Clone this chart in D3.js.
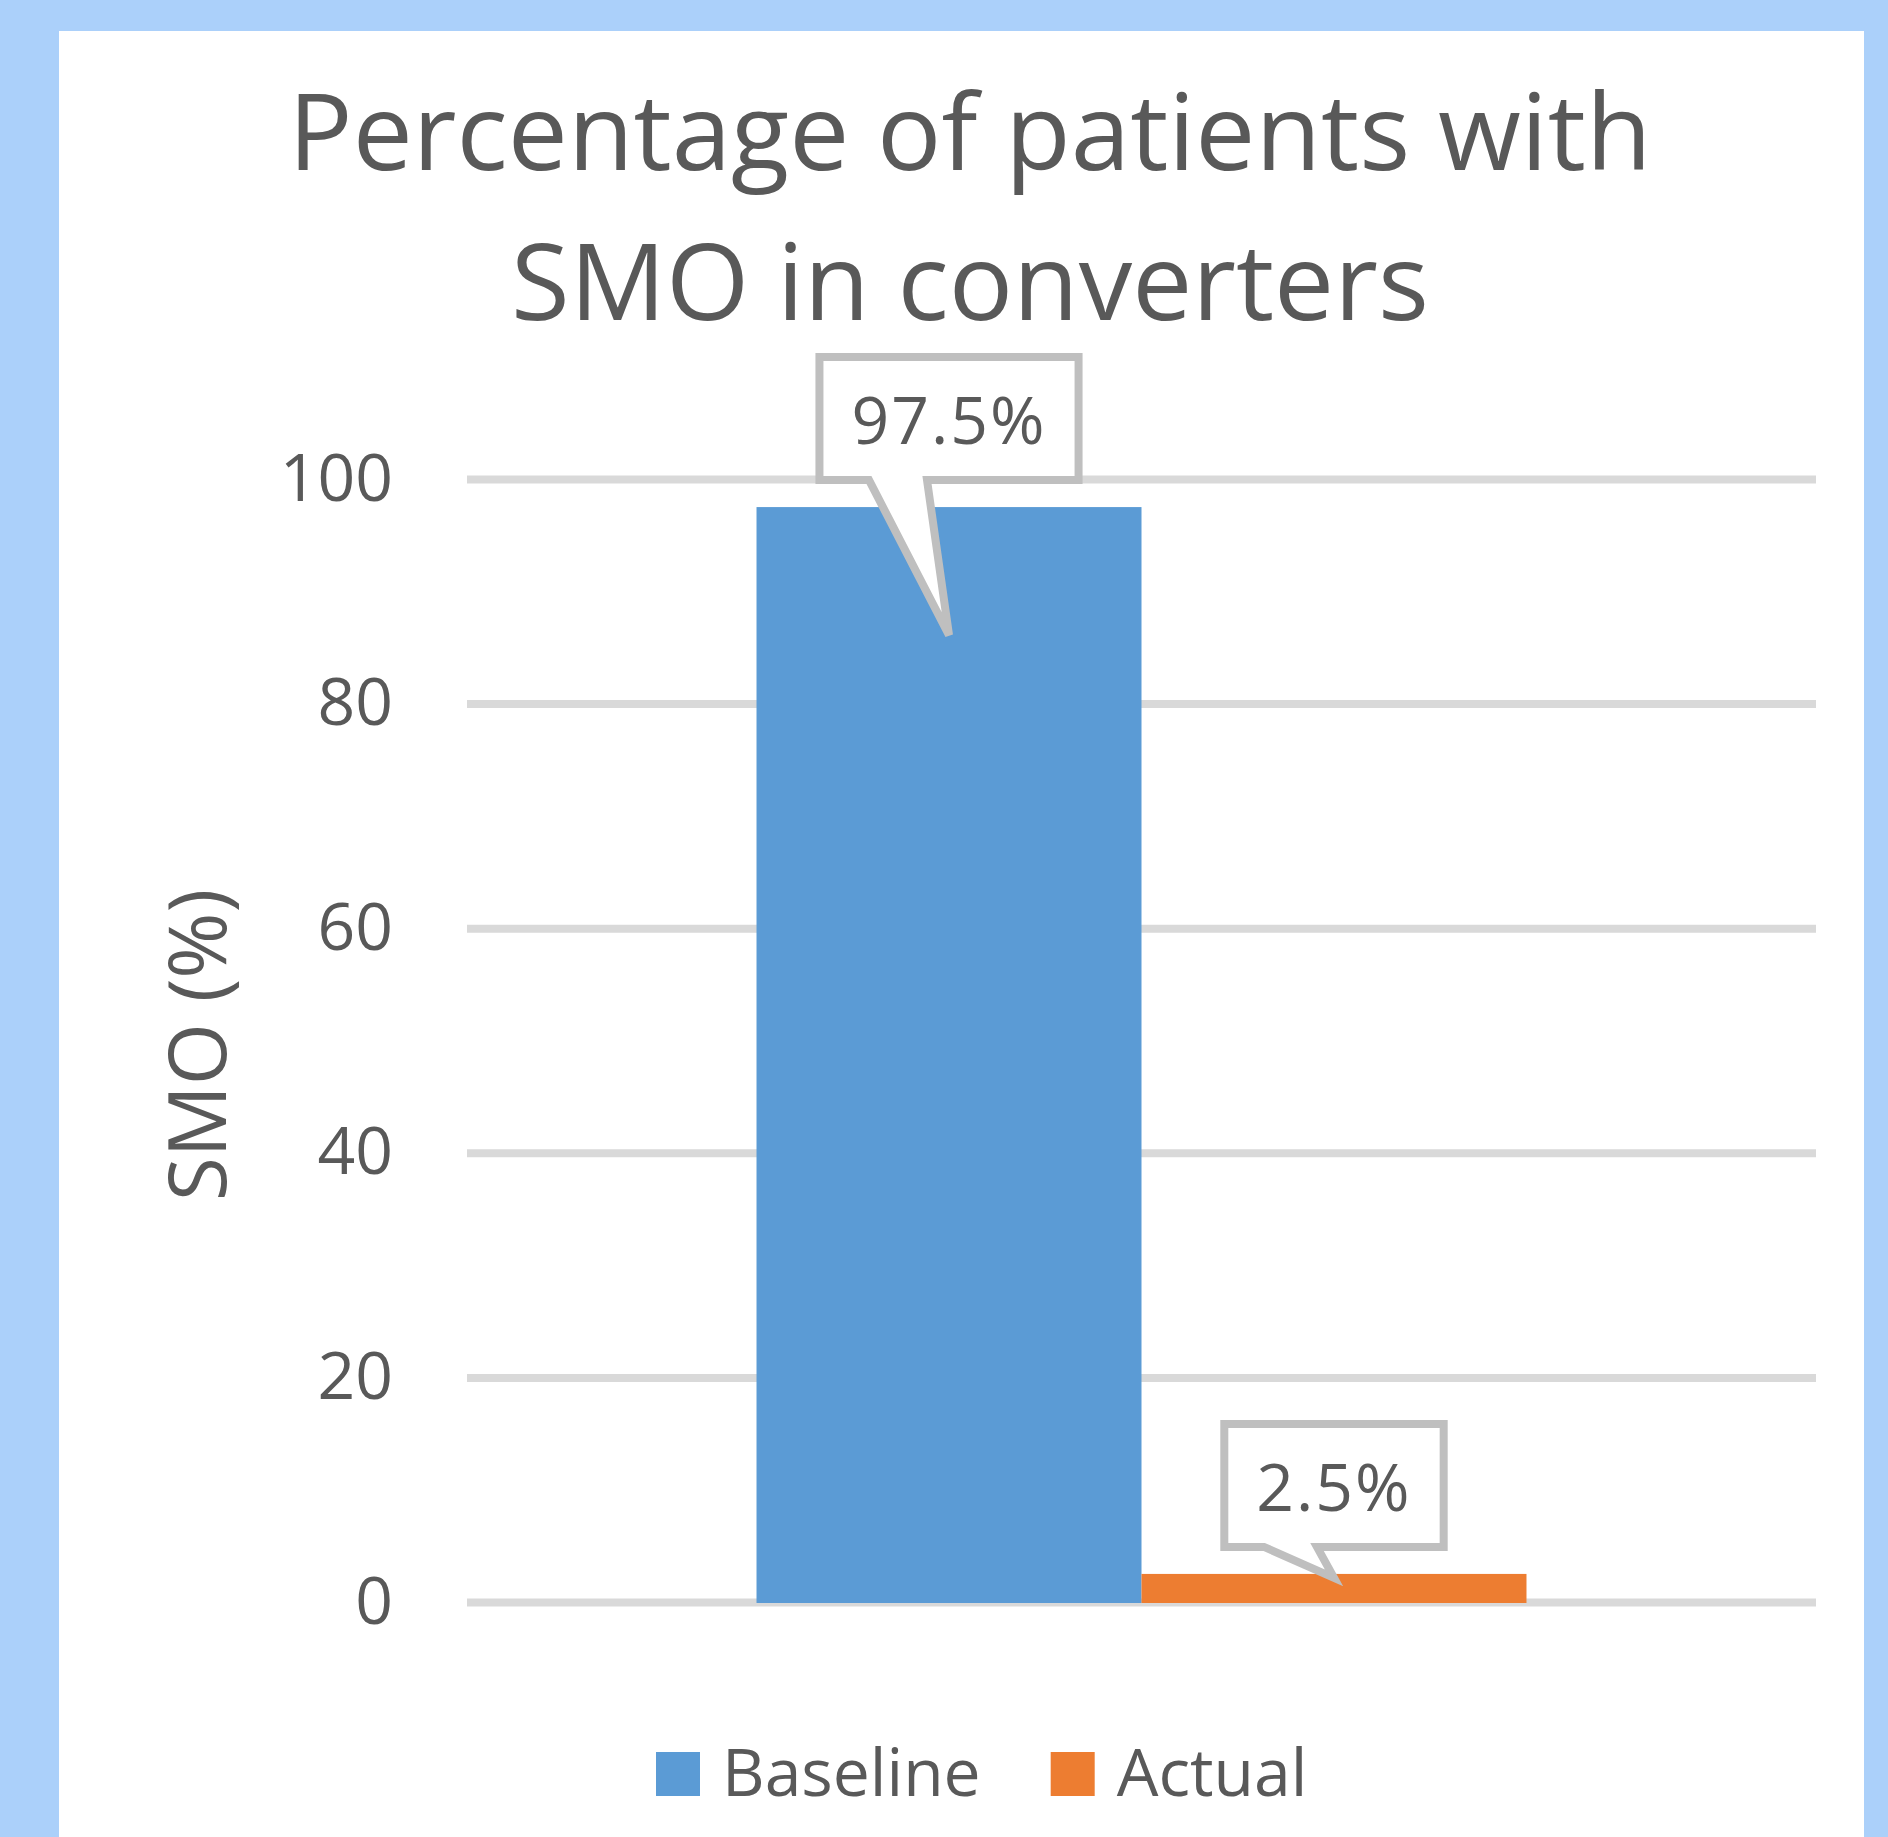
<!DOCTYPE html>
<html>
<head>
<meta charset="utf-8">
<script src="https://cdn.jsdelivr.net/npm/d3@7"></script>
<style>
  html, body { margin: 0; padding: 0; background: #abd0fa; }
  svg { display: block; }
  text { font-family: "Open Sans", "Noto Sans", sans-serif; fill: #595959; }
</style>
</head>
<body>
<svg id="chart"></svg>
<script>
// data
var categories = ["converters"];
var seriesNames = ["Baseline", "Actual"];
var seriesValues = [97.5, 2.5];
var valueLabels = ["97.5%", "2.5%"];
var yTicks = [0, 20, 40, 60, 80, 100];
var titleLines = ["Percentage of patients with", "SMO in converters"];
var yTitle = "SMO (%)";

var colors = ["#5b9bd5", "#ed7d31"];
// callout pointer tweaks (how deep the tip goes, where the pointer leaves the box)
var calloutStyle = [
	{tip: 128, base: [-80, -22]},
	{tip: 4, base: [-70, -17]}
];

var W = 1888, H = 1837;
var margin = { top: 479, right: 72, left: 467 },
		width = W - margin.left - margin.right;

var svg = d3.select('#chart').attr('width', W).attr('height', H);

// white panel
svg.append('rect').attr('x', 59).attr('y', 31).attr('width', 1864 - 59).attr('height', H - 31).attr('fill', '#fff');

// title
svg.append('text')
	.attr('x', 970).attr('text-anchor', 'middle')
	.style('font-size', '107px')
	.selectAll('tspan').data(titleLines).enter().append('tspan')
	.attr('x', 970)
	.attr('y', function(d, i){ return 170 + i * 150; })
	.text(function(d){ return d; });

var g = svg.append('g').attr('transform', 'translate(' + margin.left + ',' + margin.top + ')');

// scales
var yScale = d3.scaleLinear().domain([0, 100]).range([1602 - margin.top, 0]);
var x0 = d3.scaleBand().domain(categories).range([0, width]).paddingOuter(0.376).paddingInner(0);
var x1 = d3.scaleBand().domain(seriesNames).range([0, x0.bandwidth()]).padding(0);

// y axis with gridlines
var yAxis = d3.axisLeft(yScale).tickValues(yTicks).tickSize(-width).tickPadding(74);
var ya = g.append('g').call(yAxis);
ya.select('.domain').remove();
ya.selectAll('.tick line').attr('stroke', '#d9d9d9').attr('stroke-width', 8);
ya.selectAll('.tick text')
	.style('font-size', '66px')
	.style('font-family', '"Open Sans", "Noto Sans", sans-serif')
	.attr('fill', '#595959');

// y title
svg.append('text')
	.attr('transform', 'translate(226,1045) rotate(-90)')
	.attr('text-anchor', 'middle')
	.style('font-size', '80px')
	.text(yTitle);

// bars
var bars = seriesNames.map(function(s, i){
	return {name: s, value: seriesValues[i], label: valueLabels[i], color: colors[i], style: calloutStyle[i]};
});
var cat = g.append('g').attr('transform', 'translate(' + x0(categories[0]) + ',0)');
cat.selectAll('rect').data(bars).enter().append('rect')
	.attr('x', function(d){ return x1(d.name); })
	.attr('y', function(d){ return yScale(d.value); })
	.attr('width', x1.bandwidth())
	.attr('height', function(d){ return yScale(0) - yScale(d.value) + 1; })
	.attr('fill', function(d){ return d.color; });

// data callouts
var callouts = cat.selectAll('g.callout').data(bars).enter().append('g').attr('class', 'callout');
callouts.each(function(d){
	var grp = d3.select(this);
	var cx = x1(d.name) + x1.bandwidth() / 2;
	var top = yScale(d.value);
	var path = grp.append('path');
	var txt = grp.append('text')
		.attr('x', cx).attr('y', top - 27 - 123 + 87)
		.attr('text-anchor', 'middle')
		.style('font-size', '66px')
		.style('letter-spacing', '2px')
		.text(d.label);
	var tw = txt.node().getComputedTextLength();
	var l = cx - (tw + 72) / 2 + 4, r = cx + (tw + 72) / 2 - 4;
	var b = top - 27, t = b - 123;
	var pts = [[l, t], [r, t], [r, b], [cx + d.style.base[1], b], [cx, top + d.style.tip], [cx + d.style.base[0], b], [l, b]];
	path.attr('d', d3.line()(pts) + 'Z')
		.attr('fill', '#fff').attr('stroke', '#bfbfbf').attr('stroke-width', 8)
		.attr('stroke-linejoin', 'miter');
});

// legend
var legend = svg.append('g');
var items = legend.selectAll('g').data(bars).enter().append('g');
items.append('rect').attr('width', 44).attr('height', 44).attr('y', 1752)
	.attr('fill', function(d){ return d.color; });
items.append('text').attr('y', 1796).style('font-size', '66px').text(function(d){ return d.name; });
var xpos = 656;
items.each(function(d){
	var it = d3.select(this);
	it.select('rect').attr('x', xpos);
	it.select('text').attr('x', xpos + 66);
	xpos += 66 + it.select('text').node().getComputedTextLength() + 70;
});
</script>
</body>
</html>
